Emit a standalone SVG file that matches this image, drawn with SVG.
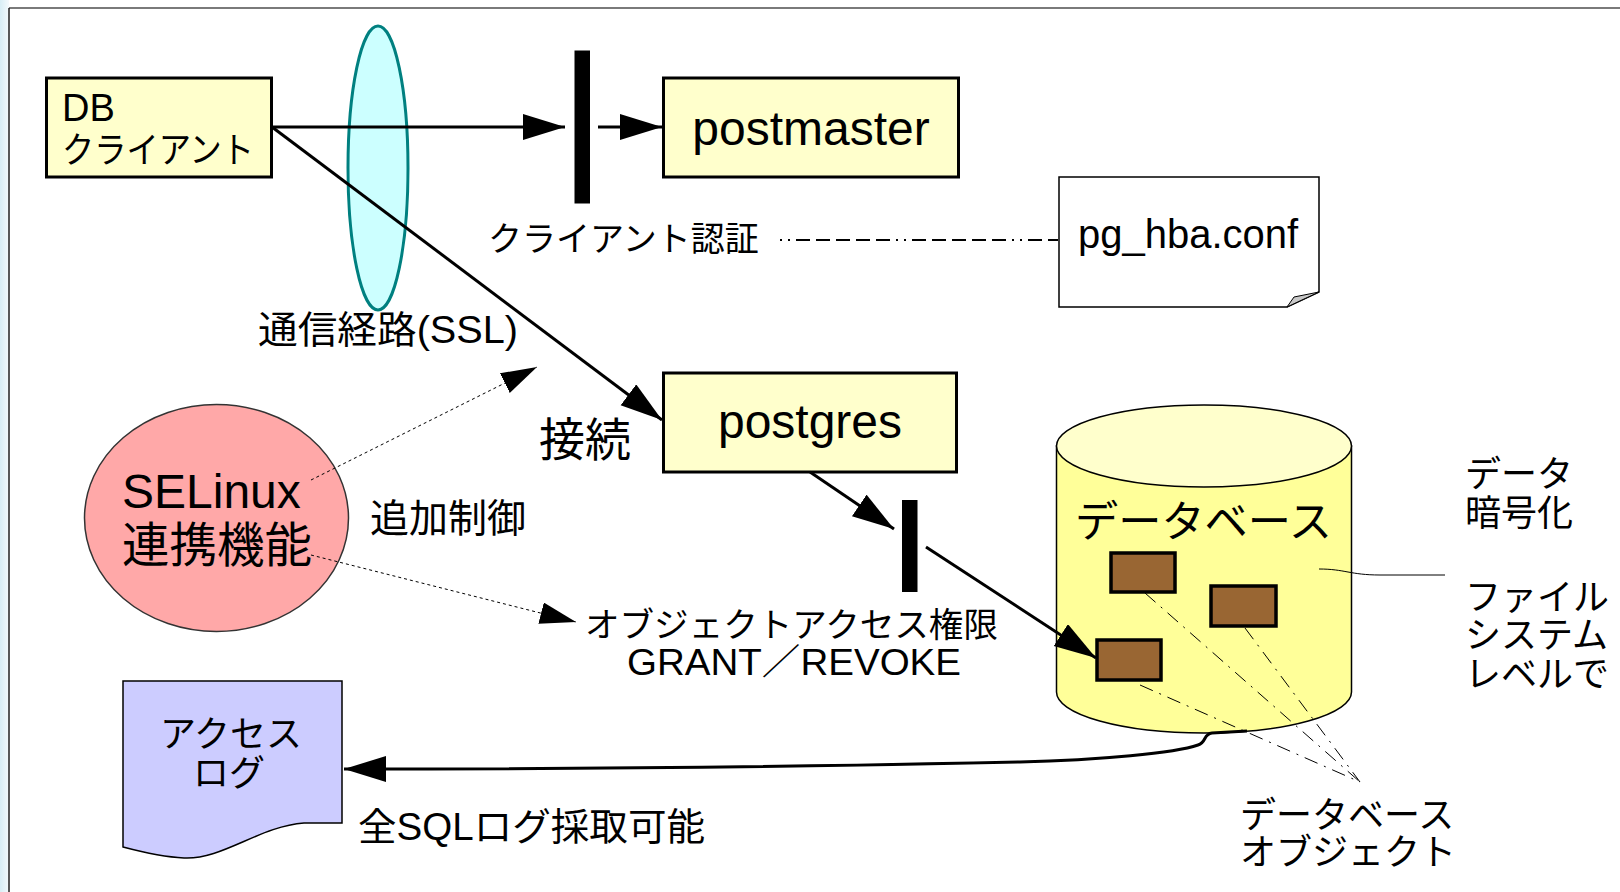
<svg xmlns="http://www.w3.org/2000/svg" width="1620" height="892" viewBox="0 0 1620 892">
<defs>
<style>
text{font-family:"Liberation Sans","Noto Sans CJK JP",sans-serif;fill:#000}
.box{fill:#ffffcc;stroke:#000;stroke-width:3}
.obj{fill:#996633;stroke:#000;stroke-width:3.5}
.arr{fill:none;stroke:#000;stroke-width:3}
.dot{fill:none;stroke:#000;stroke-width:1;stroke-dasharray:3 3}
.dd{fill:none;stroke:#000;stroke-width:1;stroke-dasharray:14 7 2 7}
.s34{font-size:34px}.s36{font-size:36px}.s48{font-size:48px}
</style>
<marker id="ah" markerUnits="userSpaceOnUse" markerWidth="44" markerHeight="28" refX="42" refY="13" orient="auto">
<path d="M0,0 L42,13 L0,26 Z" fill="#000"/>
</marker>
<marker id="ahs" markerUnits="userSpaceOnUse" markerWidth="38" markerHeight="24" refX="36" refY="11" orient="auto">
<path d="M0,0 L36,11 L0,22 Z" fill="#000"/>
</marker>
<linearGradient id="edge" x1="0" y1="0" x2="1" y2="0">
<stop offset="0" stop-color="#d8eef5"/><stop offset="1" stop-color="#f4fafc"/>
</linearGradient>
</defs>
<rect width="1620" height="892" fill="#fff"/>
<rect x="0" y="0" width="9" height="892" fill="url(#edge)"/>
<line x1="9" y1="8" x2="1620" y2="8" stroke="#7a7a7a" stroke-width="2"/>
<line x1="9" y1="8" x2="9" y2="892" stroke="#222" stroke-width="1.5"/>

<g id="ssl">
<ellipse cx="378" cy="168" rx="30" ry="142" fill="#ccffff" stroke="#008080" stroke-width="3"/>
<text x="258" y="343" font-size="38" textLength="260" lengthAdjust="spacingAndGlyphs">通信経路(SSL)</text>
</g>

<g id="auth-bar">
<rect x="574.5" y="50.5" width="15.5" height="153" fill="#000"/>
<text class="s34" x="488" y="251">クライアント認証</text>
</g>

<g id="db-client">
<rect class="box" x="46.5" y="78" width="225" height="99"/>
<text x="62" y="121" font-size="38">DB</text>
<text x="62" y="163" font-size="36" textLength="192" lengthAdjust="spacingAndGlyphs">クライアント</text>
</g>

<g id="postmaster">
<rect class="box" x="663.5" y="78" width="295" height="99"/>
<text class="s48" x="811" y="145" text-anchor="middle">postmaster</text>
</g>

<g id="pg-hba">
<path d="M1059 177 H1319 V292 L1287 307 H1059 Z" fill="#fff" stroke="#000" stroke-width="1.5"/>
<path d="M1319 292 L1287 307 L1294 297 Z" fill="#c8c8c8" stroke="#000" stroke-width="1"/>
<text x="1078" y="248" font-size="40">pg_hba.conf</text>
</g>

<g id="postgres">
<rect class="box" x="663.5" y="373" width="293" height="99"/>
<text class="s48" x="810" y="438" text-anchor="middle">postgres</text>
<text x="539" y="456" font-size="46">接続</text>
</g>

<g id="selinux">
<ellipse cx="216.5" cy="518" rx="132" ry="113.5" fill="#ffa8a8" stroke="#333" stroke-width="1.5"/>
<text class="s48" x="122" y="508">SELinux</text>
<text class="s48" x="122" y="562" textLength="190" lengthAdjust="spacingAndGlyphs">連携機能</text>
<text x="370" y="532" font-size="39">追加制御</text>
</g>

<g id="object-access">
<rect x="902" y="500" width="15.5" height="92" fill="#000"/>
<text class="s34" x="585" y="637" textLength="413" lengthAdjust="spacingAndGlyphs">オブジェクトアクセス権限</text>
<text x="794" y="675" font-size="36" text-anchor="middle" textLength="334" lengthAdjust="spacingAndGlyphs">GRANT／REVOKE</text>
</g>

<g id="database">
<path d="M1056.5 446 V692 A147.5 41 0 0 0 1351.5 692 V446 Z" fill="#ffff99" stroke="#000" stroke-width="1.5"/>
<ellipse cx="1204" cy="446" rx="147.5" ry="41" fill="#ffffcc" stroke="#000" stroke-width="1.5"/>
<text x="1075" y="537" font-size="43" textLength="257" lengthAdjust="spacingAndGlyphs">データベース</text>
<rect class="obj" x="1111" y="553" width="64" height="39"/>
<rect class="obj" x="1211" y="586" width="65" height="40"/>
<rect class="obj" x="1097" y="640" width="64" height="40"/>
<path class="dd" d="M1145 593 L1360 782"/>
<path class="dd" d="M1245 628 L1360 782"/>
<path class="dd" d="M1140 685 L1360 782"/>
<path fill="none" stroke="#000" stroke-width="1" d="M1319 569 C1345 569 1350 575 1380 575 H1445"/>
</g>

<g id="encryption">
<text class="s36" x="1465" y="487">データ</text>
<text class="s36" x="1465" y="526">暗号化</text>
<text class="s36" x="1465" y="610">ファイル</text>
<text class="s36" x="1465" y="648">システム</text>
<text class="s36" x="1465" y="687">レベルで</text>
</g>

<g id="db-objects">
<text class="s36" x="1240" y="828">データベース</text>
<text class="s36" x="1240" y="865">オブジェクト</text>
</g>

<g id="access-log">
<path d="M123 681 H342 V823 H304 C260 826 222 860 184 858 C163 857 142 852 123 847 Z" fill="#ccccff" stroke="#000" stroke-width="1.5"/>
<text x="231" y="747" font-size="36" text-anchor="middle">アクセス</text>
<text x="229" y="786" font-size="36" text-anchor="middle">ログ</text>
<text x="358" y="840" font-size="38" textLength="347" lengthAdjust="spacingAndGlyphs">全SQLログ採取可能</text>
</g>

<g id="connectors">
<path class="arr" d="M272 127 H565" marker-end="url(#ah)"/>
<path class="arr" d="M598 127 H662" marker-end="url(#ah)"/>
<path class="arr" d="M272 127 L662 420" marker-end="url(#ah)"/>
<path class="arr" d="M810 472 L894 529" marker-end="url(#ah)"/>
<path class="arr" d="M926 547 L1096 658" marker-end="url(#ah)"/>
<path class="arr" d="M1247 731 L1212 733 C1203 734 1207 742 1198 745 C1175 753 1100 760 1020 762 C 800 767 600 769 344 769" marker-end="url(#ah)" stroke-width="2.5"/>
<path class="dot" d="M311 480 L537 367" marker-end="url(#ahs)"/>
<path class="dot" d="M311 555 L576 622" marker-end="url(#ahs)"/>
<path fill="none" stroke="#000" stroke-width="2" stroke-dasharray="2 6 2 6 14 6 14 6 14 6 14 6 14 6" d="M780 240 H1058"/>
</g>
</svg>
